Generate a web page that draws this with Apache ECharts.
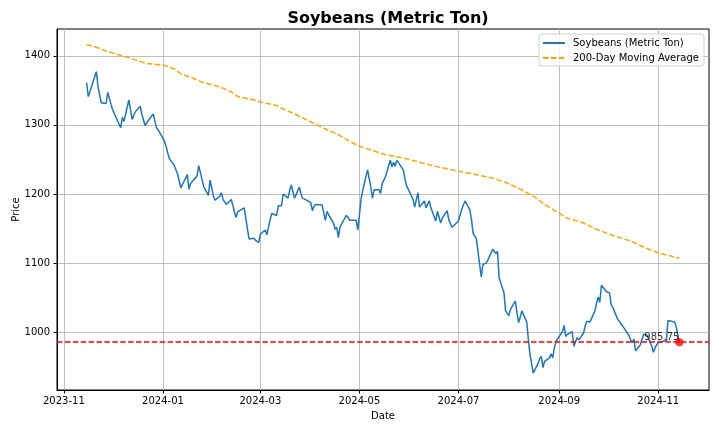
<!DOCTYPE html>
<html>
<head>
<meta charset="utf-8">
<title>Soybeans (Metric Ton)</title>
<script src="https://cdn.jsdelivr.net/npm/echarts@6/dist/echarts.min.js"></script>
<style>
  html, body { margin: 0; padding: 0; background: #fff; }
  #chart { width: 720px; height: 432px; }
</style>
</head>
<body>
<div id="chart"></div>
<script>
// trading calendar (CBOT closed on these days)
var firstDay = '2023-11-15';
var lastDay = '2024-11-14';
var holidays = ['2023-11-23', '2023-12-25', '2024-01-01', '2024-01-15', '2024-02-19',
                '2024-03-29', '2024-05-27', '2024-06-19', '2024-07-04', '2024-09-02'];

// daily closes, one array per month
var nov23 = [1361, 1341, 1348, 1370, 1377, 1355, 1332, 1331, 1347, 1345, 1330];
var dec23 = [1322, 1306, 1305, 1296, 1311, 1305, 1336, 1322, 1308, 1314, 1319,
             1327, 1315, 1307, 1299, 1303, 1316, 1318, 1296, 1293];
var jan24 = [1276, 1268, 1259, 1251, 1241, 1240, 1229, 1230, 1209, 1228, 1207,
             1215, 1218, 1226, 1241, 1241, 1222, 1211, 1198, 1220, 1222];
var feb24 = [1198, 1191, 1197, 1202, 1192, 1194, 1185, 1192, 1184, 1174, 1166,
             1174, 1180, 1178, 1150, 1135, 1136, 1133, 1135, 1130];
var mar24 = [1142, 1148, 1141, 1152, 1163, 1172, 1169, 1183, 1183, 1183, 1200,
             1194, 1205, 1213, 1212, 1194, 1210, 1200, 1194, 1193];
var apr24 = [1188, 1176, 1182, 1185, 1186, 1184, 1173, 1162, 1175, 1170, 1158,
             1149, 1152, 1137, 1152, 1165, 1169, 1166, 1162, 1162, 1162, 1148];
var may24 = [1170, 1193, 1205, 1235, 1233, 1210, 1194, 1206, 1206, 1201, 1215,
             1220, 1225, 1249, 1239, 1246, 1240, 1249, 1235, 1222, 1212, 1207];
var jun24 = [1192, 1181, 1180, 1202, 1181, 1190, 1180, 1180, 1190, 1180, 1161,
             1175, 1158, 1165, 1176, 1163, 1163, 1152, 1153];
var jul24 = [1161, 1170, 1178, 1190, 1177, 1163, 1143, 1143, 1135, 1080, 1098,
             1099, 1100, 1104, 1120, 1119, 1114, 1117, 1079, 1057, 1031, 1030];
var aug24 = [1024, 1033, 1045, 1028, 1014, 1022, 1031, 1015, 990, 968, 955,
             941, 955, 962, 965, 949, 958, 963, 969, 963, 977, 987];
var sep24 = [1001, 1010, 994, 997, 1001, 980, 982, 992, 989, 999, 1009,
             1016, 1014, 1015, 1031, 1042, 1051, 1043, 1068, 1059];
var oct24 = [1058, 1057, 1040, 1036, 1019, 1016, 1012, 1009, 1006, 995, 989,
             985, 990, 973, 982, 990, 997, 998, 996, 980, 971, 977, 982];
var nov24 = [985, 987, 987, 988, 1017, 1019, 1015, 1009, 996, 985.75];

// 200-day moving average, read at roughly weekly points
var maDates = ['2023-11-15', '2023-11-20', '2023-11-28', '2023-12-07', '2023-12-15',
               '2023-12-22', '2024-01-02', '2024-01-08', '2024-01-12', '2024-01-19',
               '2024-01-26', '2024-02-05', '2024-02-12', '2024-02-16', '2024-02-26',
               '2024-03-01', '2024-03-11', '2024-03-15', '2024-03-22', '2024-03-28',
               '2024-04-03', '2024-04-11', '2024-04-18', '2024-04-25', '2024-05-01',
               '2024-05-09', '2024-05-17', '2024-05-28', '2024-06-07', '2024-06-17',
               '2024-07-01', '2024-07-10', '2024-07-22', '2024-07-31', '2024-08-08',
               '2024-08-16', '2024-08-23', '2024-08-30', '2024-09-06', '2024-09-16',
               '2024-09-24', '2024-10-04', '2024-10-15', '2024-10-24', '2024-11-01',
               '2024-11-14'];
var maValues = [1416, 1413, 1406, 1400, 1394, 1389, 1386, 1381, 1374, 1368,
                1361, 1355, 1348, 1341, 1336, 1333, 1328, 1323, 1316, 1309,
                1302, 1293, 1286, 1276, 1269, 1263, 1257, 1252, 1246, 1240,
                1233, 1229, 1223, 1216, 1207, 1197, 1185, 1175, 1165, 1158,
                1149, 1140, 1132, 1122, 1115, 1107];

var lastPrice = 985.75;
var xTicks = ['2023-11-01', '2024-01-01', '2024-03-01', '2024-05-01', '2024-07-01', '2024-09-01', '2024-11-01'];
var yTicks = [1000, 1100, 1200, 1300, 1400];

function parseDay(s) {
    var p = s.split('-');
    return new Date(+p[0], +p[1] - 1, +p[2]);
}
function fmt(d) {
    var m = d.getMonth() + 1, day = d.getDate();
    return d.getFullYear() + '-' + (m < 10 ? '0' : '') + m + '-' + (day < 10 ? '0' : '') + day;
}

var prices = [].concat(nov23, dec23, jan24, feb24, mar24, apr24, may24, jun24,
                       jul24, aug24, sep24, oct24, nov24);
var days = [];
for (var d = parseDay(firstDay); d <= parseDay(lastDay); d.setDate(d.getDate() + 1)) {
    var wd = d.getDay();
    if (wd === 0 || wd === 6 || holidays.indexOf(fmt(d)) >= 0) continue;
    days.push(fmt(d));
}
if (days.length !== prices.length) console.log('length mismatch', days.length, prices.length);

// x axis is a plain value axis holding timestamps
var priceData = days.map(function (t, i) { return [parseDay(t).getTime(), prices[i]]; });
var maData = maDates.map(function (t, i) { return [parseDay(t).getTime(), maValues[i]]; });
var tickTimes = xTicks.map(function (t) { return parseDay(t).getTime(); });
var pad = 0.05 * (parseDay(lastDay) - parseDay(firstDay));
var font = 'DejaVu Sans';

var chart = echarts.init(document.getElementById('chart'));
chart.setOption({
    animation: false,
    title: {
        text: 'Soybeans (Metric Ton)',
        left: 383, top: 6, textAlign: 'center',
        textStyle: { fontFamily: font, fontSize: 16, fontWeight: 'bold', color: '#000' }
    },
    legend: {
        orient: 'vertical',
        right: 16, top: 34,
        padding: [4, 5, 3, 3],
        itemWidth: 22, itemHeight: 10, itemGap: 5,
        backgroundColor: 'rgba(255,255,255,0.8)',
        borderColor: '#d0d0d0', borderWidth: 1, borderRadius: 3,
        itemStyle: { opacity: 0 },
        textStyle: { fontFamily: font, fontSize: 10, color: '#000', padding: [0, 0, 0, 3] },
        data: ['Soybeans (Metric Ton)', '200-Day Moving Average']
    },
    grid: {
        left: 57, right: 11, top: 29, bottom: 42,
        outerBoundsMode: 'none',
        show: true, borderColor: '#000', borderWidth: 1, backgroundColor: 'transparent'
    },
    xAxis: {
        type: 'value',
        min: parseDay(firstDay).getTime() - pad,
        max: parseDay(lastDay).getTime() + pad,
        name: 'Date', nameLocation: 'middle', nameGap: 21, nameMoveOverlap: false,
        nameTextStyle: { fontFamily: font, fontSize: 10, color: '#000' },
        axisLine: { show: true, lineStyle: { color: '#000', width: 1 } },
        axisTick: { show: true, length: 3.5, lineStyle: { color: '#000' }, customValues: tickTimes },
        axisLabel: {
            fontFamily: font, fontSize: 10, color: '#000', margin: 6,
            customValues: tickTimes,
            formatter: function (v) { return fmt(new Date(v)).slice(0, 7); }
        },
        splitLine: { show: true, lineStyle: { color: '#b0b0b0', width: 0.8 } }
    },
    yAxis: {
        type: 'value',
        min: 916.5, max: 1438.7,
        name: 'Price', nameLocation: 'middle', nameGap: 36, nameMoveOverlap: false,
        nameTextStyle: { fontFamily: font, fontSize: 10, color: '#000' },
        axisLine: { show: true, lineStyle: { color: '#000', width: 1 } },
        axisTick: { show: true, length: 3.5, lineStyle: { color: '#000' }, customValues: yTicks },
        axisLabel: {
            fontFamily: font, fontSize: 10, color: '#000', margin: 7, customValues: yTicks,
            formatter: function (v) { return String(v); }
        },
        splitLine: { show: true, lineStyle: { color: '#b0b0b0', width: 0.8 } }
    },
    series: [
        {
            name: 'Soybeans (Metric Ton)',
            type: 'line',
            data: priceData,
            symbol: 'none',
            lineStyle: { color: '#1f77b4', width: 1.5 },
            itemStyle: { color: '#1f77b4' },
            markLine: {
                silent: true, symbol: 'none', label: { show: false },
                lineStyle: { color: '#ff0000', type: [5.5, 2.4], width: 1.5 },
                data: [{ yAxis: lastPrice }]
            },
            z: 3
        },
        {
            name: '200-Day Moving Average',
            type: 'line',
            data: maData,
            symbol: 'none',
            lineStyle: { color: '#ffa500', width: 1.5, type: [5.5, 2.4] },
            itemStyle: { color: '#ffa500' },
            z: 2
        },
        {
            name: 'last',
            type: 'scatter',
            data: [[parseDay(lastDay).getTime(), lastPrice]],
            symbolSize: 8,
            itemStyle: { color: '#ff0000' },
            label: {
                show: true, position: [4, 4], align: 'right', verticalAlign: 'bottom',
                fontFamily: font, fontSize: 10, color: '#000',
                formatter: function (p) { return p.value[1].toFixed(2); }
            },
            z: 4
        }
    ]
});
</script>
</body>
</html>
